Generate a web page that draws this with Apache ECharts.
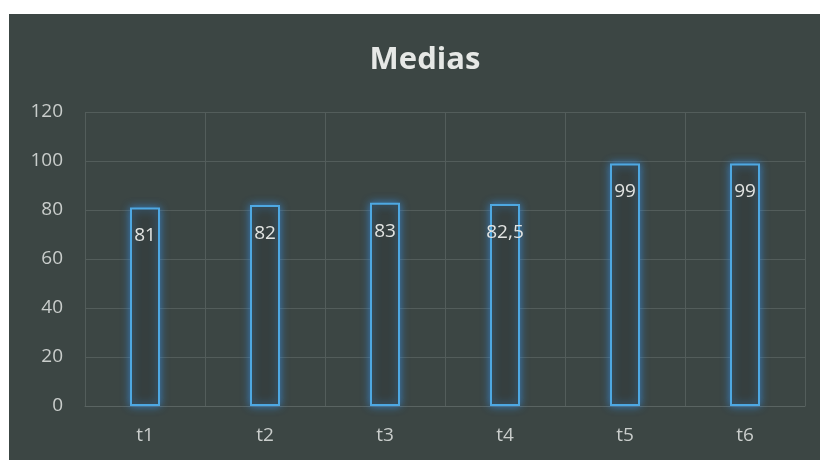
<!DOCTYPE html>
<html>
<head>
<meta charset="utf-8">
<title>Medias</title>
<script src="https://cdn.jsdelivr.net/npm/echarts@6/dist/echarts.min.js"></script>
<style>
  html, body { margin: 0; padding: 0; background: #ffffff; width: 820px; height: 460px; overflow: hidden; }
  #chart { position: absolute; left: 9px; top: 14px; width: 811px; height: 446px; background: #3c4644; }
</style>
</head>
<body>
<div id="chart"></div>
<script>
// Average score per test
const categories = ['t1', 't2', 't3', 't4', 't5', 't6'];
const medias = [81, 82, 83, 82.5, 99, 99];
const yTicks = [0, 20, 40, 60, 80, 100, 120];

const chart = echarts.init(document.getElementById('chart'));

chart.setOption({
  backgroundColor: '#3c4644',
  animation: false,
  title: {
    text: 'Medias',
    left: 411,
    top: 26,
    textAlign: 'center',
    textStyle: { color: '#e6e8e6', fontSize: 31, fontWeight: 'bold', fontFamily: 'Open Sans' }
  },
  grid: { left: 76, top: 98, width: 720, height: 294 },
  xAxis: {
    type: 'category',
    data: categories,
    axisLine: { show: true, lineStyle: { color: '#5a6462', width: 1 } },
    axisTick: { show: false },
    axisLabel: { color: '#c9cdcb', fontSize: 19, margin: 20, fontFamily: 'Open Sans' },
    splitLine: { show: true, interval: 0, lineStyle: { color: '#535d5b', width: 1 } }
  },
  yAxis: {
    type: 'value',
    min: yTicks[0],
    max: yTicks[yTicks.length - 1],
    interval: 20,
    axisLine: { show: false },
    axisTick: { show: false },
    axisLabel: { color: '#c9cdcb', fontSize: 19, margin: 22, fontFamily: 'Open Sans' },
    splitLine: { show: true, lineStyle: { color: '#535d5b', width: 1 } }
  },
  series: [{
    type: 'bar',
    data: medias,
    barWidth: 30,
    itemStyle: {
      color: '#363f3f',
      borderColor: '#4ea8e2',
      borderWidth: 2,
      shadowBlur: 8,
      shadowColor: 'rgba(55, 140, 220, 0.8)'
    },
    label: {
      show: true,
      position: 'insideTop',
      distance: 19,
      color: '#e2e4e2',
      fontSize: 19,
      fontFamily: 'Open Sans',
      formatter: p => String(p.value).replace('.', ',')
    }
  }]
});
</script>
</body>
</html>
